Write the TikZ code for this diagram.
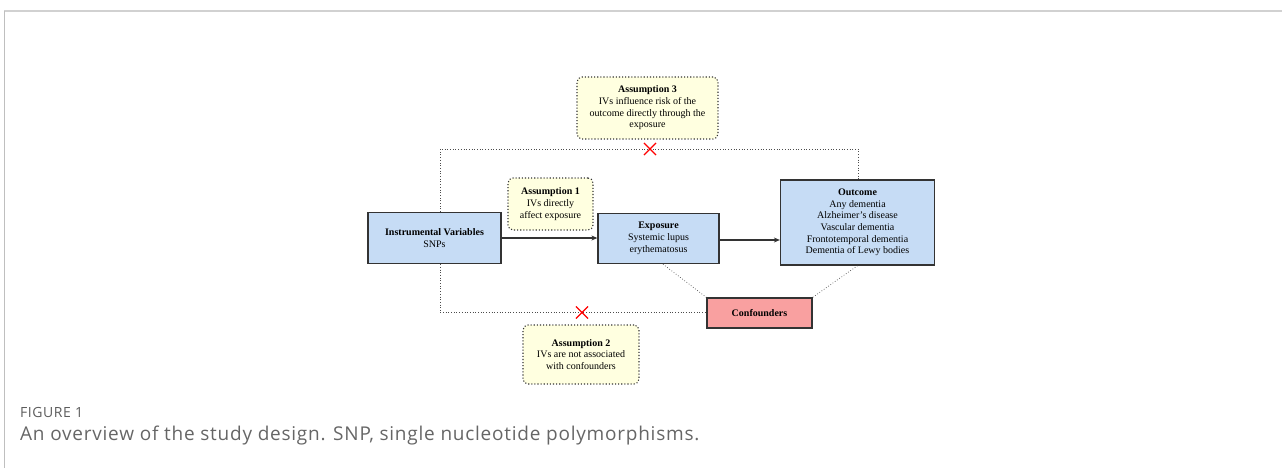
\documentclass[tikz,border=0pt]{standalone}
\usepackage{fontspec}
\setmainfont{Liberation Serif}
\newfontfamily\capfont[LetterSpace=4]{Open Sans}
\usetikzlibrary{shapes.misc,arrows.meta,calc}
\definecolor{boxblue}{HTML}{C6DCF5}
\definecolor{boxyellow}{HTML}{FFFFE0}
\definecolor{boxred}{HTML}{F9A0A0}
\definecolor{edgegray}{HTML}{333333}
\definecolor{capgray}{HTML}{666666}
\tikzset{
  mainbox/.style={draw=edgegray, line width=1.3pt, fill=boxblue, align=center,
    font=\fontsize{10}{11.7}\selectfont, inner sep=0pt},
  assumbox/.style={draw=edgegray, dotted, line width=1.1pt, rounded corners=5pt,
    fill=boxyellow, align=center, font=\fontsize{10}{11.7}\selectfont, inner sep=0pt},
  dotline/.style={draw=black!70, dotted, line width=0.7pt},
  arr/.style={draw=edgegray, line width=1.1pt, -{Stealth[length=6pt,width=5pt]}},
  redx/.style={cross out, draw=red, line width=1.1pt, minimum size=11pt, inner sep=0pt},
}
\begin{document}
\begin{tikzpicture}[x=1pt,y=-1pt]
\useasboundingbox (0,0) rectangle (1282,468);
% frame
\draw[draw=black!18, line width=1.6pt] (4,11) -- (1282,11);
\draw[draw=black!25, line width=0.6pt] (4,11) -- (4,468);
% main boxes
\node[mainbox, minimum width=133pt, minimum height=51pt] (iv) at (434.5,238)
  {\textbf{Instrumental Variables}\\SNPs};
\node[mainbox, minimum width=121pt, minimum height=50pt] (exp) at (658.5,238.5)
  {\textbf{Exposure}\\Systemic lupus\\erythematosus};
\node[mainbox, minimum width=154pt, minimum height=85pt] (out) at (857.5,222.5)
  {\textbf{Outcome}\\Any dementia\\Alzheimer's disease\\Vascular dementia\\Frontotemporal dementia\\Dementia of Lewy bodies};
\node[mainbox, fill=boxred, minimum width=105pt, minimum height=30pt] (conf) at (759.5,313)
  {\textbf{Confounders}};
% assumptions
\node[assumbox, minimum width=85pt, minimum height=52pt] (a1) at (550.5,204)
  {\textbf{Assumption 1}\\IVs directly\\affect exposure};
\node[assumbox, minimum width=116pt, minimum height=59pt] (a2) at (581,354.5)
  {\textbf{Assumption 2}\\IVs are not associated\\with confounders};
\node[assumbox, minimum width=141pt, minimum height=62pt] (a3) at (647.5,108)
  {\textbf{Assumption 3}\\IVs influence risk of the\\outcome directly through the\\exposure};
% arrows
\draw[arr] (iv.east) -- (exp.west |- iv.east);
\draw[arr] (exp.east |- 0,240) -- (out.west |- 0,240);
% dotted paths
\coordinate (tl) at (440,149);
\coordinate (tr) at (858,149);
\coordinate (bl) at (440,312.5);
\draw[dotline] (iv.north -| tl) -- (tl) -- (tr) -- (out.north -| tr);
\draw[dotline] (iv.south -| bl) -- (bl) -- (conf.west |- bl);
\draw[dotline] ($(exp.south)+(4.5,0)$) -- (conf.north west);
\draw[dotline] (out.south) -- (conf.north east);
% crosses
\node[redx] (x1) at (650,149) {};
\node[redx] (x2) at (582,312.5) {};
% caption
\node[anchor=base west, inner sep=0pt, text=capgray!90!black, font=\capfont\fontsize{14}{16}\selectfont] (fig) at (20,417) {FIGURE 1};
\node[anchor=base west, inner sep=0pt, text=capgray, font=\capfont\fontsize{19}{22}\selectfont] (cap) at (20,440) {An overview of the study design. SNP, single nucleotide polymorphisms.};
\end{tikzpicture}
\end{document}
